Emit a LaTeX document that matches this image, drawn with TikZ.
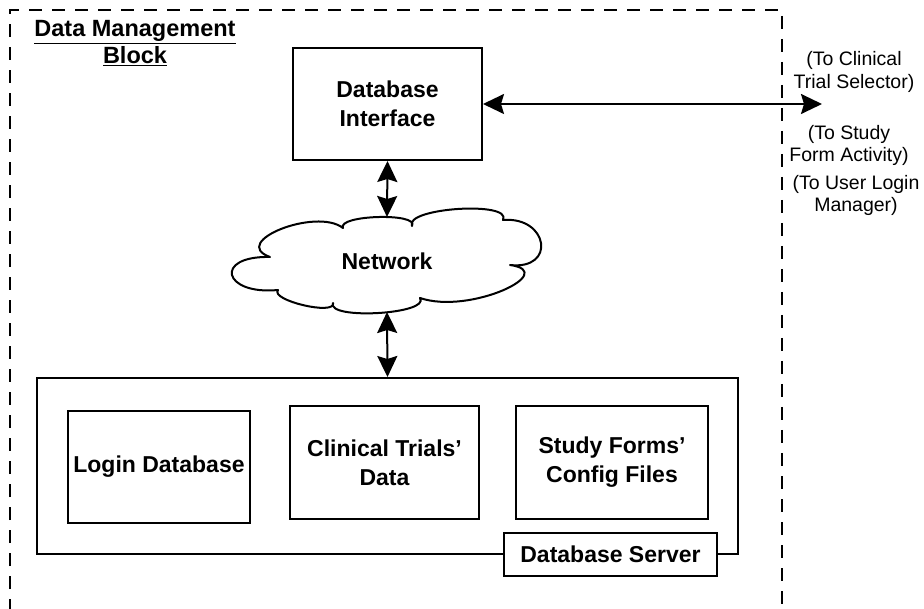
\documentclass[tikz,border=0pt]{standalone}
\usepackage{fontspec}
\setmainfont{Liberation Sans}
\usetikzlibrary{positioning, arrows.meta}

\tikzset{
  block/.style={draw, line width=2pt, align=center, font=\fontsize{23}{29}\selectfont\bfseries, inner sep=0pt},
  extlabel/.style={align=center, font=\fontsize{19.5}{22.5}\selectfont},
  dblarrow/.style={line width=2pt, {Stealth[length=21pt,width=20pt,inset=3pt]}-{Stealth[length=21pt,width=20pt,inset=3pt]}}
}

\begin{document}
\begin{tikzpicture}[x=1pt, y=-1pt]
                  \useasboundingbox (0,0) rectangle (924,609);
                  \draw[line width=2pt, dash pattern=on 13pt off 10pt] (10,612) -- (10,10) -- (782,10) -- (782,612);
                  \node[align=center, font=\fontsize{23.5}{27}\selectfont\bfseries] (title) at (135,43) {\underline{Data Management}\\\underline{Block}};

                  \node[block, minimum width=189pt, minimum height=112pt] (iface) at (387.5,104) {Database\\Interface};

                  \draw[line width=2pt, line join=round] (270,257) .. controls (228.7,241.9) and (316.3,207.1) .. (343,228)
                        .. controls (336.8,214.9) and (419.6,212.5) .. (412,226)
                        .. controls (403.6,207.9) and (512.8,200.7) .. (503,220)
                        .. controls (548.3,216.2) and (556.7,270.2) .. (510,265)
                        .. controls (560,272) and (470,315) .. (420,298)
                        .. controls (430.7,314.2) and (326.3,320.2) .. (333,303)
                        .. controls (335.7,315.9) and (269.7,300.3) .. (278,290)
                        .. controls (222.8,295.3) and (213.2,255.7) .. (270,257) -- cycle;
                  \node[font=\fontsize{23}{29}\selectfont\bfseries] (net) at (387,261) {Network};
                  \coordinate (nettop) at (387,217);
                  \coordinate (netbot) at (387,312);

                  \node[block, minimum width=701pt, minimum height=176pt] (server) at (387.5,466) {};
                  \node[block, minimum width=182pt, minimum height=112pt] (login) at (159,467) {Login Database};
                  \node[block, minimum width=189pt, minimum height=113pt] (trials) at (384.5,462.5) {Clinical Trials'\\Data};
                  \node[block, minimum width=192pt, minimum height=113pt] (forms) at (612,462.5) {Study Forms'\\Config Files};
                  \node[block, fill=white, minimum width=213pt, minimum height=43pt] (srvlabel) at (610.5,554.5) {Database Server};

                  \coordinate (ext) at (822,104);
                  \draw[dblarrow] (iface.east) -- (ext);
                  \draw[dblarrow] (iface.south) -- (nettop);
                  \draw[dblarrow] (netbot) -- (server.north);

                  \node[extlabel] (selector) at (854,72) {(To Clinical\\Trial Selector)};
                  \node[extlabel] (activity) at (849,145.5) {(To Study\\Form Activity)};
                  \node[extlabel] (loginmgr) at (856,195.5) {(To User Login\\Manager)};
              \end{tikzpicture}
\end{document}
